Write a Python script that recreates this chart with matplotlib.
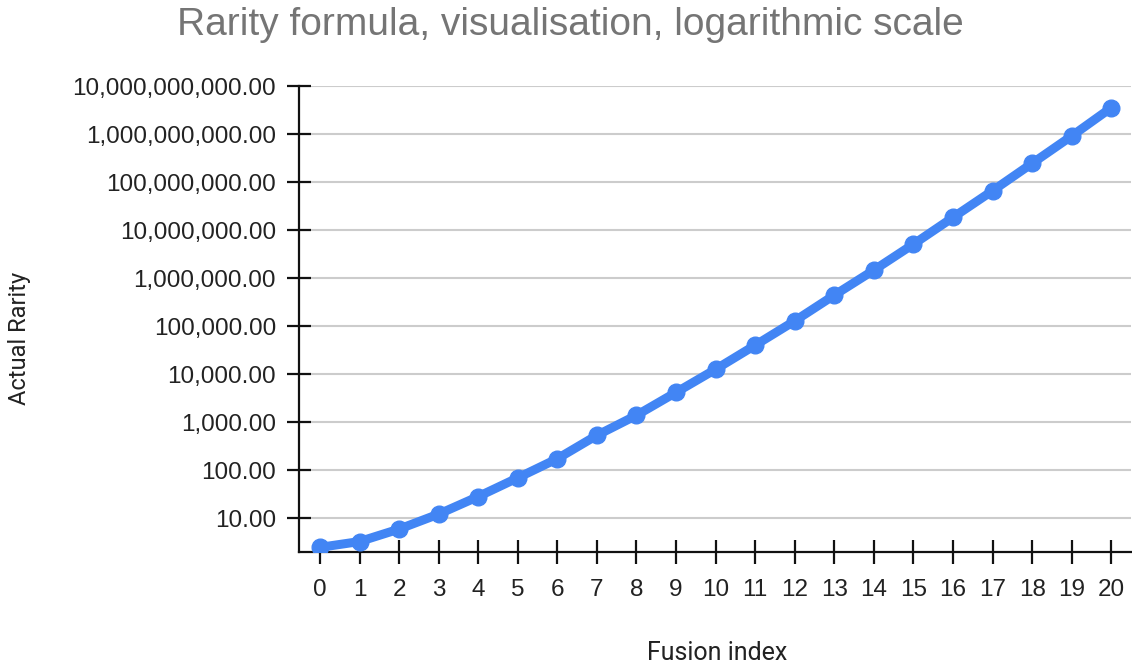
import matplotlib.pyplot as plt
from matplotlib.ticker import FixedLocator, FuncFormatter, NullLocator

# values
fusion_index = list(range(21))
actual_rarity = [2.5, 3.3, 6.0, 12.3, 28.5, 70, 175, 536, 1400, 4200,
                 12700, 40200, 129000, 443000, 1.47e6, 5.1e6, 1.84e7,
                 6.6e7, 2.45e8, 9.1e8, 3.53e9]
y_ticks = [10.0 ** k for k in range(1, 11)]

title = "Rarity formula, visualisation, logarithmic scale"
x_label = "Fusion index"
y_label = "Actual Rarity"

plt.rcParams['font.family'] = ['Liberation Sans', 'DejaVu Sans']

fig = plt.figure(figsize=(11.32, 6.68), dpi=100)
ax = fig.add_axes([299 / 1132, 116 / 668, 832 / 1132, 466 / 668])

ax.plot(fusion_index, actual_rarity, color="#4285F4", linewidth=6.5,
        marker="o", markersize=12, solid_capstyle="round", zorder=3)

ax.set_yscale("log")
ax.set_ylim(2, 1e10)
ax.set_xlim(-0.53, 20.5)
ax.yaxis.set_major_locator(FixedLocator(y_ticks))
ax.yaxis.set_minor_locator(NullLocator())
ax.yaxis.set_major_formatter(FuncFormatter(lambda v, p: f"{v:,.2f}"))
ax.set_xticks(fusion_index)

ax.grid(axis="y", color="#cccccc", linewidth=1.5, zorder=0)
for side in ["top", "right"]:
    ax.spines[side].set_visible(False)
for side in ["left", "bottom"]:
    ax.spines[side].set_linewidth(1.6)
    ax.spines[side].set_color("#111111")

ax.tick_params(axis="both", direction="inout", length=17, width=1.6,
               color="#111111", labelsize=17.5, labelcolor="#222222")
ax.tick_params(axis="y", pad=8)
ax.tick_params(axis="x", pad=11)

fig.text(0.5035, 1 - 25 / 668, title, ha="center", va="center",
         fontsize=28, color="#757575")
fig.text(717 / 1132, 1 - 653 / 668, x_label, ha="center", va="center",
         fontsize=18, color="#222222", family=["Roboto", "DejaVu Sans"])
fig.text(20 / 1132, 1 - 338 / 668, y_label, ha="center", va="center",
         rotation=90, fontsize=17, color="#222222",
         family=["Roboto", "DejaVu Sans"])

fig.savefig("out.png", dpi=100)
